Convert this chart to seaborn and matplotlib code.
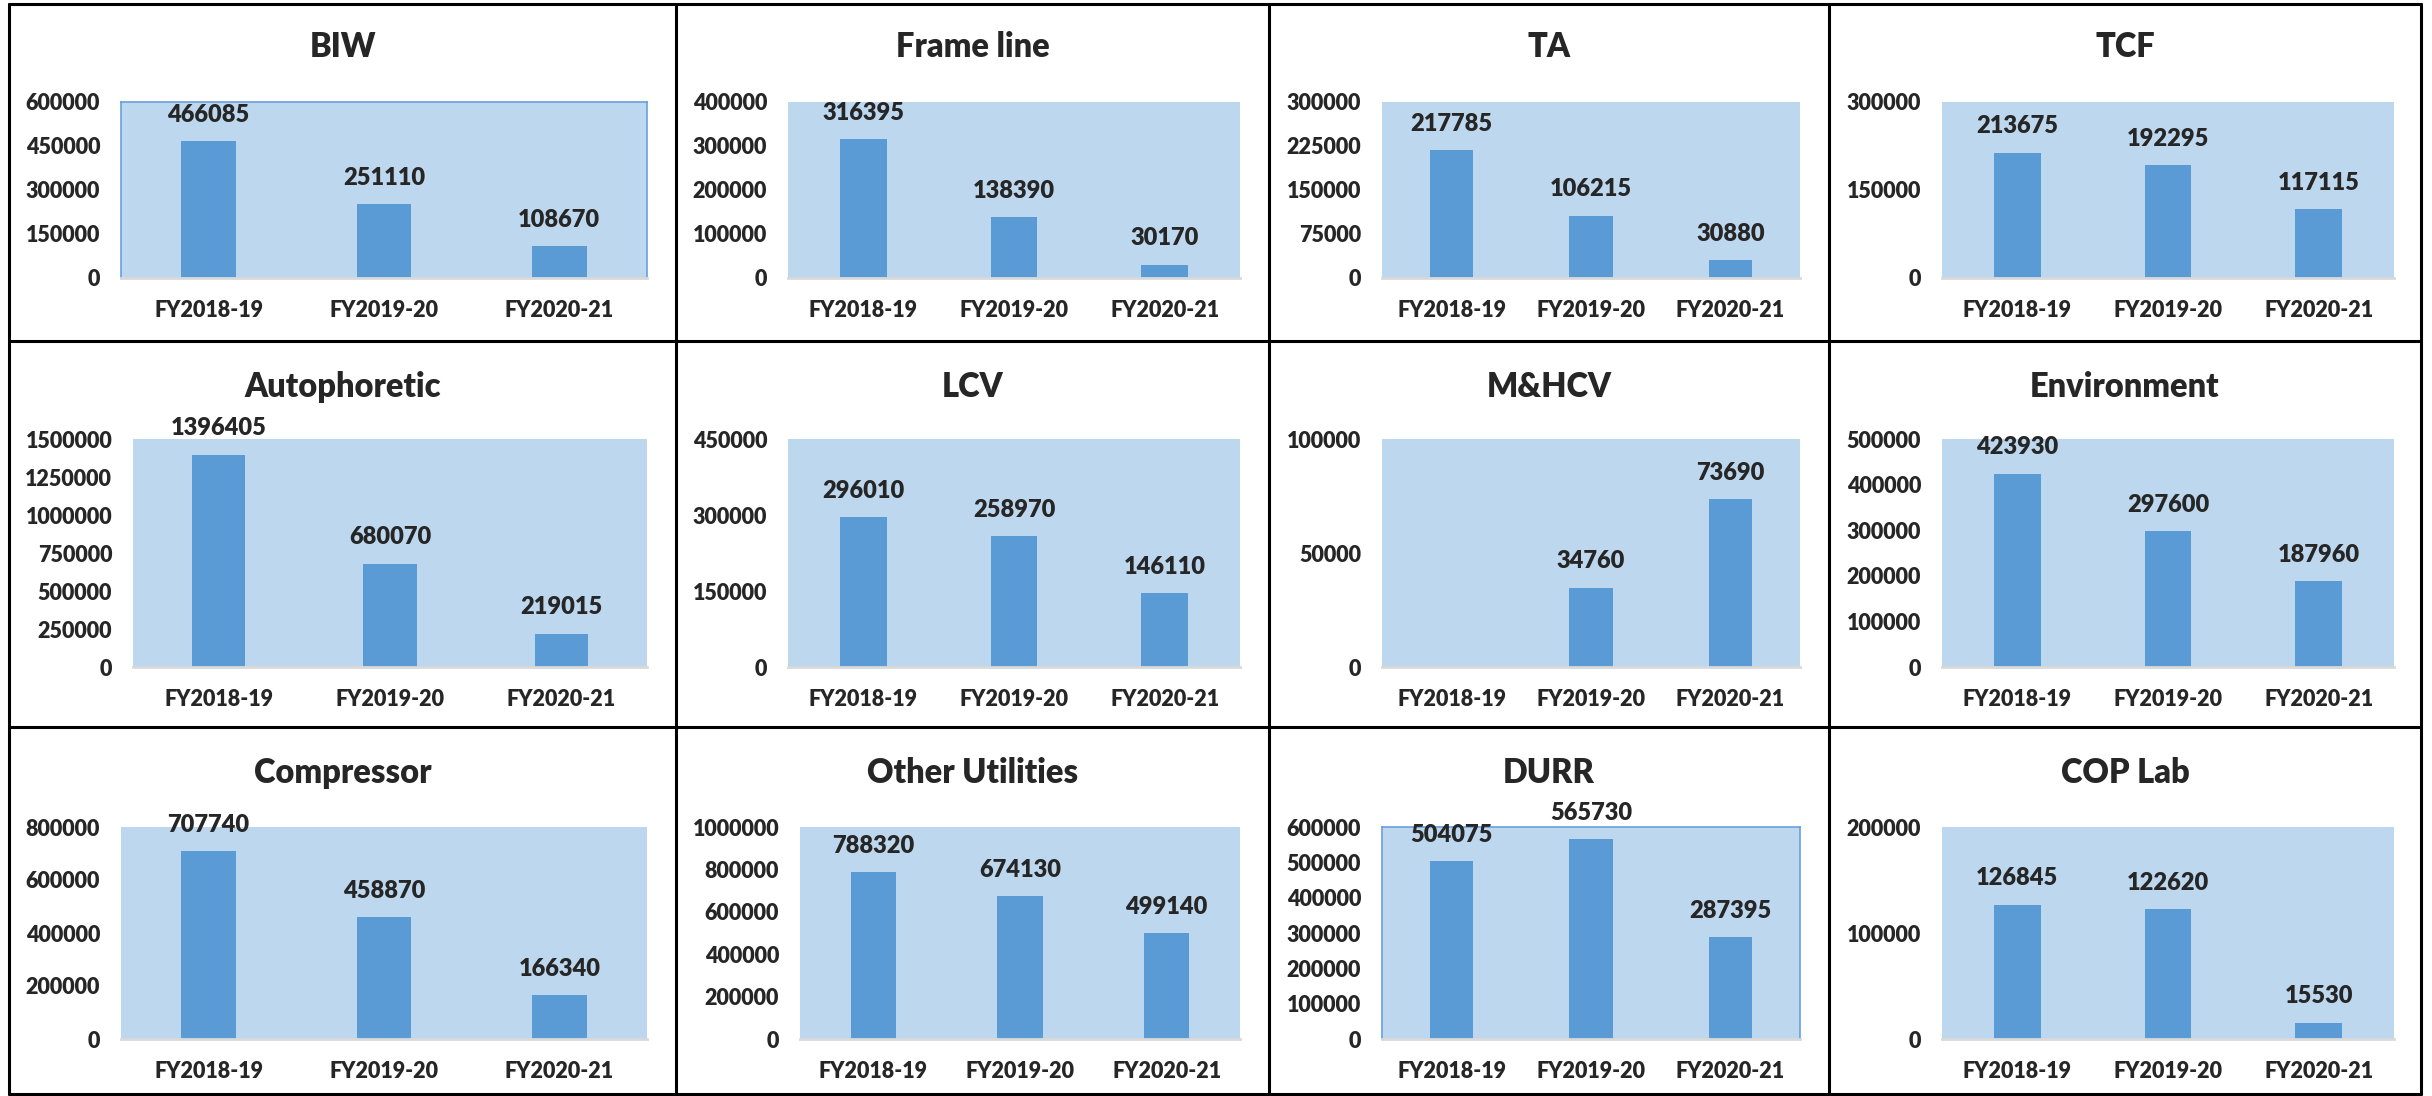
import numpy as np
import pandas as pd
import matplotlib
matplotlib.use("Agg")
import matplotlib.pyplot as plt
from matplotlib.lines import Line2D
import seaborn as sns

# Data
years = ["FY2018-19", "FY2019-20", "FY2020-21"]

biw = [466085, 251110, 108670]
frame_line = [316395, 138390, 30170]
ta = [217785, 106215, 30880]
tcf = [213675, 192295, 117115]
autophoretic = [1396405, 680070, 219015]
lcv = [296010, 258970, 146110]
mhcv = [np.nan, 34760, 73690]
environment = [423930, 297600, 187960]
compressor = [707740, 458870, 166340]
other_utilities = [788320, 674130, 499140]
durr = [504075, 565730, 287395]
cop_lab = [126845, 122620, 15530]

titles = ["BIW", "Frame line", "TA", "TCF",
          "Autophoretic", "LCV", "M&HCV", "Environment",
          "Compressor", "Other Utilities", "DURR", "COP Lab"]
series = [biw, frame_line, ta, tcf,
          autophoretic, lcv, mhcv, environment,
          compressor, other_utilities, durr, cop_lab]
y_max = [600000, 400000, 300000, 300000,
         1500000, 450000, 100000, 500000,
         800000, 1000000, 600000, 200000]
y_step = [150000, 100000, 75000, 150000,
          250000, 150000, 50000, 100000,
          200000, 200000, 100000, 100000]
framed = ["BIW", "DURR"]

sns.set_style("white")
plt.rcParams["font.family"] = ["Lato", "DejaVu Sans"]
WEIGHT = 800
plt.rcParams["font.weight"] = WEIGHT

BAR = "#5B9BD5"
FACE = "#BDD7EE"

W, H = 2432, 1096
fig = plt.figure(figsize=(W / 100, H / 100), dpi=100)

# cell grid (pixels)
xs = [9, 676, 1269, 1829, 2421]
ys = [4, 341, 727, 1094]

# plot areas in pixels: (left, right) per column, (top, bottom) per row
cols = [(121, 647), (788, 1240), (1382, 1800), (1942, 2394)]
rows = [(102, 278), (439, 667), (827, 1039)]
title_y = [47, 387, 773]
left_fix = {"Autophoretic": 133, "Other Utilities": 800}

for i, (name, vals) in enumerate(zip(titles, series)):
    r, c = divmod(i, 4)
    l, rgt = cols[c]
    l = left_fix.get(name, l)
    t, b = rows[r]
    ax = fig.add_axes([l / W, 1 - b / H, (rgt - l) / W, (b - t) / H])
    df = pd.DataFrame({"year": years, "value": vals}).dropna()
    sns.barplot(data=df, x="year", y="value", order=years, color=BAR,
                width=0.31, saturation=1, errorbar=None, linewidth=0, ax=ax)
    ax.set_facecolor(FACE)
    ax.set_ylim(0, y_max[i])
    ax.set_yticks(np.arange(0, y_max[i] + 1, y_step[i]))
    ax.set_yticklabels([str(int(v)) for v in ax.get_yticks()])
    ax.set_xlim(-0.5, 2.5)
    ax.set_xlabel("")
    ax.set_ylabel("")
    ax.tick_params(axis="y", length=0, pad=15, labelsize=15.5)
    ax.tick_params(axis="x", length=0, pad=16, labelsize=15.5)
    for lab in ax.get_xticklabels() + ax.get_yticklabels():
        lab.set_fontweight(WEIGHT)
    for s in ["top", "right", "left"]:
        ax.spines[s].set_visible(name in framed)
        ax.spines[s].set_color("#6A9FDB")
        ax.spines[s].set_linewidth(1.2)
    ax.spines["bottom"].set_color("#D9D9D9")
    ax.spines["bottom"].set_linewidth(2)
    for p in ax.patches:
        h = p.get_height()
        if np.isnan(h):
            continue
        ax.annotate(str(int(round(h))), (p.get_x() + p.get_width() / 2, h),
                    xytext=(0, 11), textcoords="offset points",
                    ha="center", va="bottom", fontsize=17, fontweight=WEIGHT,
                    annotation_clip=False)
    fig.text((xs[c] + xs[c + 1]) / 2 / W, 1 - title_y[r] / H, name,
             ha="center", va="center", fontsize=23.5, fontweight=WEIGHT)

# table borders
for x in xs:
    fig.add_artist(Line2D([x / W, x / W], [1 - ys[0] / H, 1 - ys[-1] / H],
                          color="black", lw=2.2))
for y in ys:
    fig.add_artist(Line2D([xs[0] / W, xs[-1] / W], [1 - y / H, 1 - y / H],
                          color="black", lw=2.2))

fig.savefig("out.png", dpi=100)
